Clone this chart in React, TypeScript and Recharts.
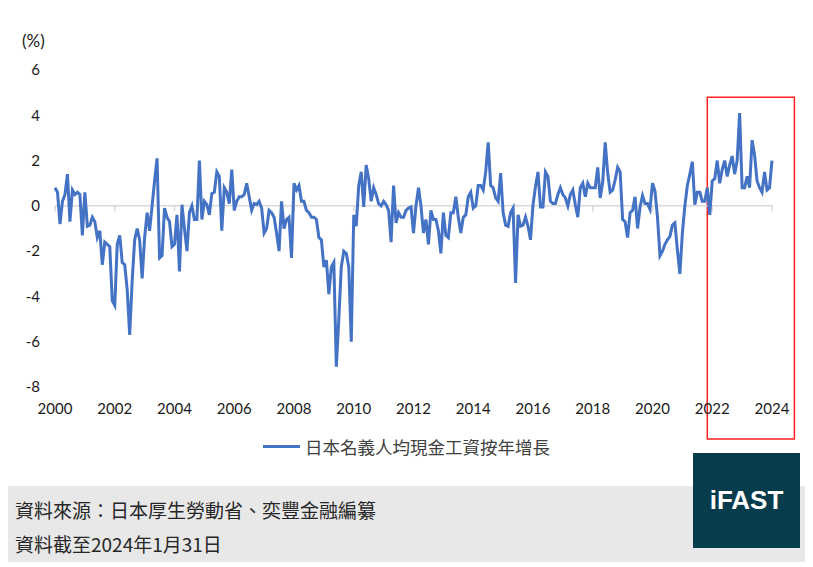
import React from 'react'
import { LineChart, Line, XAxis, YAxis, ReferenceLine, ReferenceArea } from 'recharts'

// 日本名義人均現金工資按年增長 (%), monthly, Jan 2000 - Jan 2024
const yoy2000 = [0.8, 0.6, -0.8, 0.2, 0.5, 1.4, -0.7, 0.7, 0.5, 0.6, 0.5, -1.3]
const yoy2001 = [0.6, -0.9, -0.85, -0.5, -0.7, -1.4, -1.1, -2.6, -1.6, -1.7, -1.8, -4.2]
const yoy2002 = [-4.4, -1.7, -1.3, -2.5, -2.6, -3.7, -5.7, -3.3, -1.5, -1.0, -1.5, -3.2]
const yoy2003 = [-1.4, -0.3, -1.1, 0.0, 1.1, 2.1, -2.3, -2.2, -0.1, -0.5, -0.7, -1.8]
const yoy2004 = [-1.7, -0.4, -2.9, 0.05, -1.0, -2.0, -0.3, 0.0, -0.6, -0.6, 2.0, -0.6]
const yoy2005 = [0.2, 0.05, -0.4, 0.55, 0.6, 1.5, 1.3, -1.1, 0.8, 0.6, 0.1, 1.6]
const yoy2006 = [-0.2, 0.2, 0.4, 0.4, 0.5, 1.0, 0.4, -0.2, 0.1, 0.05, 0.2, -0.1]
const yoy2007 = [-1.2, -1.0, -0.2, -0.3, -0.5, -1.2, -2.0, 0.2, -1.0, -0.6, -0.5, -2.3]
const yoy2008 = [1.0, 0.7, 0.9, 0.2, 0.2, -0.2, -0.3, -0.5, -0.5, -0.6, -1.4, -1.5]
const yoy2009 = [-2.7, -2.4, -3.9, -2.7, -2.5, -7.1, -5.0, -2.7, -2.0, -2.1, -2.7, -6.0]
const yoy2010 = [-0.4, -0.9, 0.9, 1.5, -0.05, 1.8, 1.2, 0.2, 0.8, 0.5, 0.1, 0.0]
const yoy2011 = [0.2, 0.05, -0.2, -1.6, 0.9, -0.75, -0.3, -0.5, -0.5, -0.2, -0.1, -0.05]
const yoy2012 = [-1.2, 0.0, 0.8, 0.0, -1.2, -0.6, -1.7, -0.2, -0.6, -0.6, -1.1, -2.1]
const yoy2013 = [-0.3, -1.3, -1.4, -0.3, -0.3, 0.4, -0.5, -1.2, -0.5, -0.4, 0.4, 0.6]
const yoy2014 = [-0.1, 0.0, 0.9, 0.9, 0.7, 1.5, 2.8, 0.9, 0.8, 0.35, 0.2, 1.45]
const yoy2015 = [-0.3, -0.85, -0.9, -0.3, -0.1, -3.4, -0.4, -0.9, -0.85, -0.5, -0.9, -1.5]
const yoy2016 = [0.05, 0.85, 1.5, -0.05, -0.05, 1.5, 1.3, 0.2, 0.1, 0.1, 0.5, 0.8]
const yoy2017 = [0.5, 0.35, 0.0, 0.5, 0.7, 0.05, -0.5, 0.8, 1.0, 0.4, 1.0, 0.8]
const yoy2018 = [0.8, 0.8, 1.7, 0.35, 1.05, 2.8, 1.45, 0.6, 0.7, 1.15, 1.7, 1.5]
const yoy2019 = [-0.6, -0.7, -1.4, -0.3, -0.2, 0.4, -1.0, -0.05, 0.45, 0.1, 0.1, -0.15]
const yoy2020 = [1.0, 0.65, -0.5, -2.2, -2.0, -1.7, -1.5, -1.35, -0.85, -0.75, -1.95, -3.0]
const yoy2021 = [-1.2, 0.0, 0.9, 1.4, 1.95, 0.05, 0.6, 0.6, 0.2, 0.2, 0.8, -0.4]
const yoy2022 = [1.1, 1.2, 2.0, 1.0, 1.6, 2.0, 1.3, 1.8, 2.2, 1.4, 2.0, 4.1]
const yoy2023 = [0.8, 0.8, 1.3, 0.8, 2.9, 2.25, 1.1, 0.8, 0.6, 1.5, 0.7, 0.8]
const yoy2024 = [2.0]

const wageGrowth = [
  yoy2000, yoy2001, yoy2002, yoy2003, yoy2004, yoy2005, yoy2006, yoy2007, yoy2008,
  yoy2009, yoy2010, yoy2011, yoy2012, yoy2013, yoy2014, yoy2015, yoy2016, yoy2017,
  yoy2018, yoy2019, yoy2020, yoy2021, yoy2022, yoy2023, yoy2024,
].flat()

const yearLabels = [2000, 2002, 2004, 2006, 2008, 2010, 2012, 2014, 2016, 2018, 2020, 2022, 2024]
const yTicks = [-8, -6, -4, -2, 0, 2, 4, 6]

// highlighted period (late 2021 onwards), in months since Jan 2000 and %
const highlightMonths = [262, 297]
const highlightValues = [-10.3, 4.8]

const seriesName = '日本名義人均現金工資按年增長'
const sourceText = '資料來源：日本厚生勞動省、奕豐金融編纂'
const dateText = '資料截至2024年1月31日'

const monthOf = (year: number) => (year - 2000) * 12
const data = wageGrowth.map((v, i) => ({ month: i, value: v }))
const xTicks = yearLabels.map(monthOf)

const tickFont = { fontFamily: 'Lato, "Open Sans", sans-serif', fontSize: 15, fill: '#1a1a1a' }
const cjk = '"Noto Sans CJK TC", "Noto Sans CJK SC", sans-serif'

export default function App() {
  return (
    <div style={{ position: 'relative', width: 813, height: 567, margin: '-8px 0 0 -8px', background: '#fff' }}>
      <div
        style={{
          position: 'absolute', left: 5, top: 5, width: 802, height: 557,
          border: '1px solid #dcdcdc', boxSizing: 'border-box',
        }}
      />
      <div style={{ position: 'absolute', left: 6, top: 486, width: 800, height: 76, background: '#e8e8e8' }} />

      <LineChart
        width={813}
        height={567}
        data={data}
        margin={{ top: 70, right: 41, bottom: 150, left: 0 }}
        style={{ position: 'absolute', left: 0, top: 0 }}
      >
        <XAxis
          dataKey="month"
          type="number"
          domain={[0, 288]}
          ticks={xTicks}
          tickFormatter={(m: number) => String(2000 + m / 12)}
          axisLine={false}
          tickLine={false}
          tickSize={0}
          tickMargin={16}
          height={30}
          tick={tickFont}
          interval={0}
        />
        <YAxis
          type="number"
          domain={[-8, 6]}
          ticks={yTicks}
          axisLine={false}
          tickLine={false}
          tickSize={0}
          tickMargin={15}
          width={55}
          tick={tickFont}
          interval={0}
        />
        <ReferenceLine y={0} stroke="#d9d9d9" strokeWidth={1.5} />
        {xTicks.map((m) => (
          <ReferenceLine
            key={m}
            segment={[{ x: m, y: 0 }, { x: m, y: -0.25 }]}
            stroke="#d9d9d9"
            strokeWidth={1.5}
          />
        ))}
        <Line
          type="linear"
          dataKey="value"
          name={seriesName}
          stroke="#4472c4"
          strokeWidth={3}
          dot={false}
          isAnimationActive={false}
        />
        <ReferenceArea
          x1={highlightMonths[0]}
          x2={highlightMonths[1]}
          y1={highlightValues[0]}
          y2={highlightValues[1]}
          fill="none"
          stroke="#ff2020"
          strokeWidth={1.5}
          ifOverflow="visible"
        />
      </LineChart>

      <div style={{ position: 'absolute', left: 22, top: 30, fontFamily: 'Lato, sans-serif', fontSize: 17, color: '#1a1a1a' }}>
        (%)
      </div>

      <div
        style={{
          position: 'absolute', left: 0, top: 434, width: 813, display: 'flex',
          justifyContent: 'center', alignItems: 'center', fontFamily: cjk, fontSize: 17.5, color: '#404040',
        }}
      >
        <span style={{ display: 'inline-block', width: 37, height: 3, background: '#4472c4', marginRight: 5 }} />
        <span>{seriesName}</span>
      </div>

      <div style={{ position: 'absolute', left: 15, top: 496, fontFamily: cjk, fontSize: 19, color: '#262626' }}>
        {sourceText}
      </div>
      <div style={{ position: 'absolute', left: 15, top: 530, fontFamily: cjk, fontSize: 19, color: '#262626' }}>
        {dateText}
      </div>

      <div
        style={{
          position: 'absolute', left: 693, top: 453, width: 107, height: 95, background: '#073c4c',
          display: 'flex', alignItems: 'center', justifyContent: 'center',
          fontFamily: '"Liberation Sans", Arial, sans-serif', fontWeight: 700, fontSize: 26, color: '#fff',
        }}
      >
        iFAST
      </div>
    </div>
  )
}
